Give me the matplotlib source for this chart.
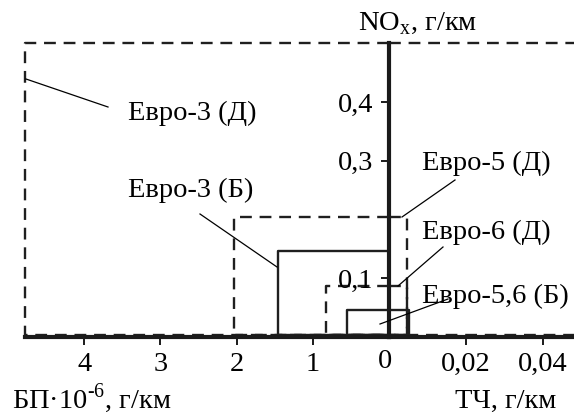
import matplotlib
matplotlib.use("Agg")
import matplotlib.pyplot as plt
from matplotlib.lines import Line2D

plt.rcParams['font.family'] = ['Liberation Serif', 'DejaVu Serif']
plt.rcParams['mathtext.fontset'] = 'custom'
plt.rcParams['mathtext.rm'] = 'Liberation Serif'

# ---- data ----
names = ['Евро-3 (Д)', 'Евро-5 (Д)', 'Евро-6 (Д)', 'Евро-3 (Б)', 'Евро-5,6 (Б)']
pn_vals = [4.78, 2.03, 0.83, 1.46, 0.55]          # БП·10^-6
pm_vals = [0.05, 0.0047, 0.0047, None, 0.0052]    # ТЧ, г/км
nox_vals = [0.5, 0.204, 0.087, 0.146, 0.046]      # NOx, г/км
diesel = [True, True, True, False, False]

pn_ticks = [1, 2, 3, 4]
pm_ticks = [0.02, 0.04]
pm_tick_labels = ['0,02', '0,04']
nox_ticks = [0.1, 0.3, 0.4]
nox_tick_labels = ['0,1', '0,3', '0,4']

W, H = 574, 416
fig = plt.figure(figsize=(W / 100, H / 100), dpi=100)

x0 = 389          # origin pixel x
y0 = 337          # origin pixel y
px_pn = 76.2      # pixels per БП unit
px_pm = 77 / 0.02 # pixels per ТЧ unit
px_nox = 587.5    # pixels per NOx unit

ylim = (-(H - y0) / px_nox, y0 / px_nox)
axL = fig.add_axes([0, 0, x0 / W, 1])
axR = fig.add_axes([x0 / W, 0, (W - x0) / W, 1])
axL.set_xlim(x0 / px_pn, 0)
axR.set_xlim(0, (W - x0) / px_pm)
for ax in (axL, axR):
    ax.set_ylim(*ylim)
    ax.patch.set_visible(False)
    for s in ax.spines.values():
        s.set_visible(False)

FS = 20.5
dash = (0, (5.0, 3.3))
LW_D = 1.7
LW_S = 1.7
col = '#1f1f1f'

# axes lines
axL.spines['bottom'].set_visible(True)
axL.spines['bottom'].set_position(('data', 0))
axL.spines['bottom'].set_bounds(0, pn_vals[0])
axL.spines['bottom'].set_linewidth(3)
axR.spines['bottom'].set_visible(True)
axR.spines['bottom'].set_position(('data', 0))
axR.spines['bottom'].set_linewidth(3)
axR.spines['left'].set_visible(True)
axR.spines['left'].set_bounds(0, nox_vals[0])
axR.spines['left'].set_linewidth(3)
for sp in (axL.spines['bottom'], axR.spines['bottom'], axR.spines['left']):
    sp.set_color('#1a1a1a')
    sp.set_zorder(5)

axL.set_xticks(pn_ticks)
axL.set_xticklabels([str(t) for t in pn_ticks])
axL.set_yticks([])
axR.set_xticks(pm_ticks)
axR.set_xticklabels(pm_tick_labels)
axR.set_yticks(nox_ticks)
axR.set_yticklabels(nox_tick_labels)
for ax in (axL, axR):
    ax.tick_params(axis='x', direction='out', length=6, width=1.4,
                   labelsize=FS, pad=5, color='#1a1a1a')
axR.tick_params(axis='y', direction='out', length=6, width=1.4,
                labelsize=FS, pad=5, color='#1a1a1a')
axL.text(0.05, -0.021, '0', fontsize=FS, ha='center', va='top')

# rectangles
for n, pn, pm, nox, d in zip(names, pn_vals, pm_vals, nox_vals, diesel):
    ls = dash if d else '-'
    lw = LW_D if d else LW_S
    axL.plot([0, pn, pn, 0], [nox, nox, 0.004, 0.004], ls=ls, lw=lw, color=col,
             clip_on=False, zorder=3)
    if pm is not None:
        axR.plot([0, pm, pm, 0], [nox, nox, 0.004, 0.004], ls=ls, lw=lw,
                 color=col, clip_on=True, zorder=3)

# labels & leader lines (pixel layout)
def fx(x):
    return x / W

def fy(y):
    return 1 - y / H

labels_pos = {
    'Евро-3 (Д)': (128, 113),
    'Евро-3 (Б)': (128, 190),
    'Евро-5 (Д)': (422, 163),
    'Евро-6 (Д)': (422, 232),
    'Евро-5,6 (Б)': (422, 296),
}
leaders = {
    'Евро-3 (Д)': ((26, 79), (108, 107)),
    'Евро-3 (Б)': ((200, 214), (277, 267)),
    'Евро-5 (Д)': ((402, 217), (455, 180)),
    'Евро-6 (Д)': ((398, 286), (443, 247)),
    'Евро-5,6 (Б)': ((380, 324), (448, 299)),
}
for n in names:
    x, y = labels_pos[n]
    fig.text(fx(x), fy(y), n, fontsize=FS, ha='left', va='center')
    (xa, ya), (xb, yb) = leaders[n]
    fig.add_artist(Line2D([fx(xa), fx(xb)], [fy(ya), fy(yb)], lw=0.9,
                          color='black', transform=fig.transFigure))

fig.text(fx(418), fy(24), r'NO$_\mathregular{x}$, г/км', fontsize=FS,
         ha='center', va='center')
fig.text(fx(12), fy(408), 'БП·10$^\\mathregular{\u2010 6}$, г/км',
         fontsize=FS, ha='left', va='baseline')
fig.text(fx(506), fy(408), 'ТЧ, г/км', fontsize=FS, ha='center',
         va='baseline')

fig.savefig('out.png', dpi=100)
